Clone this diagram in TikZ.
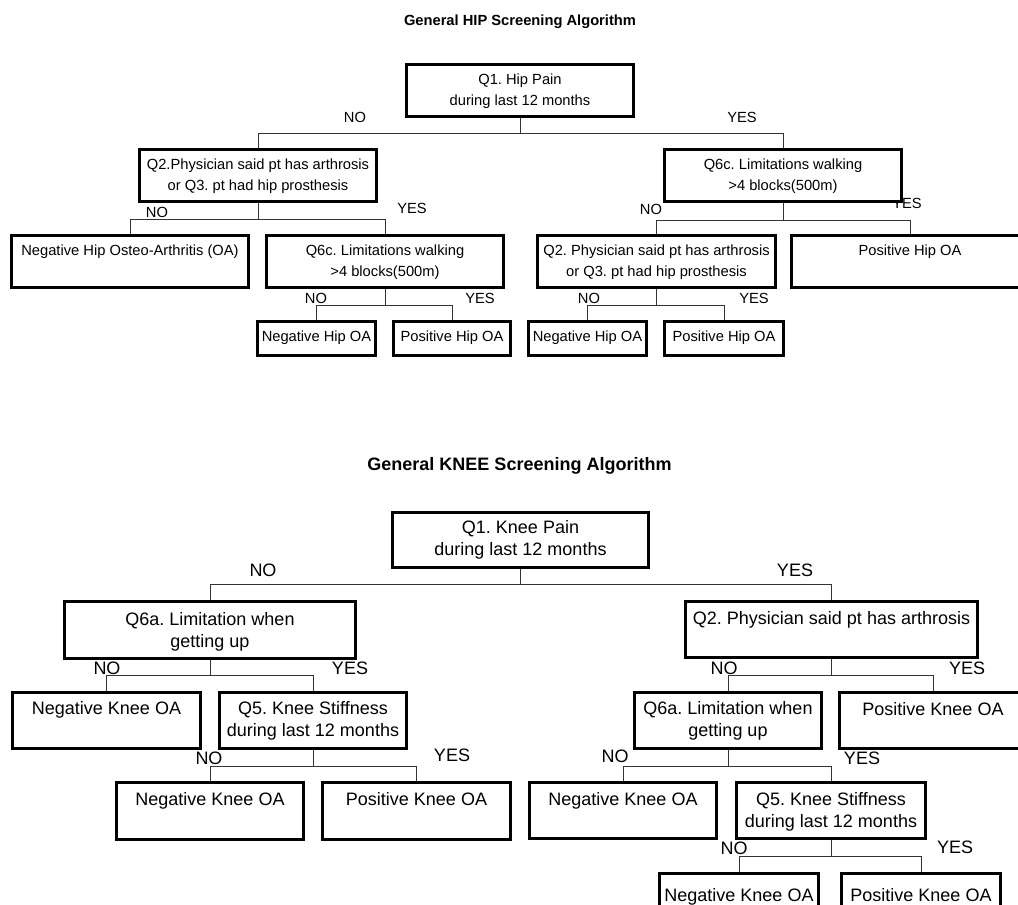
\documentclass[tikz,border=0pt]{standalone}
\usepackage{fontspec}
\setmainfont{Liberation Sans}
\frenchspacing
\pgfdeclarelayer{back}
\pgfdeclarelayer{bg}
\pgfsetlayers{back,bg,main}
\begin{document}
\begin{tikzpicture}[x=1pt,y=-1pt,
  box/.style={draw=black,line width=3pt,fill=white,inner sep=0pt},
  htxt/.style={anchor=north,inner sep=0pt,align=center,font=\fontsize{14.7}{20.5}\selectfont},
  ktxt/.style={anchor=north,inner sep=0pt,align=center,font=\fontsize{18}{22}\selectfont},
  hlab/.style={inner sep=0pt,font=\fontsize{14.7}{17}\selectfont},
  klab/.style={inner sep=0pt,font=\fontsize{18}{21}\selectfont},
  conn/.style={draw=black!80,line width=1pt},
  ttl/.style={inner sep=0pt,font=\bfseries}
]
\useasboundingbox (0,0) rectangle (1018,905);
\clip (0,0) rectangle (1018,905);
\begin{pgfonlayer}{back}
\fill[white] (0,0) rectangle (1018,905);
\end{pgfonlayer}

% ---------------- HIP ----------------
\node[ttl,font=\fontsize{14.7}{17}\selectfont\bfseries] (htitle) at (520,21.5) {General HIP Screening Algorithm};

\node[box,minimum width=227pt,minimum height=52pt] (hq1) at (520,90.5) {};
\node[htxt] (hq1t) at ([yshift=-11pt]hq1.north) {Q1. Hip Pain\\during last 12 months};

\node[box,minimum width=237pt,minimum height=52pt] (hq2) at (258,175.5) {};
\node[htxt] (hq2t) at ([yshift=-11pt]hq2.north) {Q2.Physician said pt has arthrosis\\or Q3. pt had hip prosthesis};

\node[box,minimum width=237pt,minimum height=52pt] (hq6) at (783,175.5) {};
\node[htxt] (hq6t) at ([yshift=-11pt]hq6.north) {Q6c. Limitations walking\\>4 blocks(500m)};

\node[box,minimum width=237pt,minimum height=52pt] (hneg) at (130,261.5) {};
\node[htxt] (hnegt) at ([yshift=-11pt]hneg.north) {Negative Hip Osteo-Arthritis (OA)};

\node[box,minimum width=237pt,minimum height=52pt] (hq6b) at (385,261.5) {};
\node[htxt] (hq6bt) at ([yshift=-11pt]hq6b.north) {Q6c. Limitations walking\\>4 blocks(500m)};

\node[box,minimum width=238pt,minimum height=52pt] (hq2b) at (656.5,261.5) {};
\node[htxt] (hq2bt) at ([yshift=-11pt]hq2b.north) {Q2. Physician said pt has arthrosis\\or Q3. pt had hip prosthesis};

\node[box,minimum width=237pt,minimum height=52pt] (hpos) at (910,261.5) {};
\node[htxt] (hpost) at ([yshift=-11pt]hpos.north) {Positive Hip OA};

\node[box,minimum width=118pt,minimum height=34pt] (hn1) at (316.5,338.5) {};
\node[htxt] (hn1t) at ([yshift=-10.5pt]hn1.north) {Negative Hip OA};
\node[box,minimum width=117pt,minimum height=34pt] (hp1) at (452,338.5) {};
\node[htxt] (hp1t) at ([yshift=-10.5pt]hp1.north) {Positive Hip OA};
\node[box,minimum width=118pt,minimum height=34pt] (hn2) at (587.5,338.5) {};
\node[htxt] (hn2t) at ([yshift=-10.5pt]hn2.north) {Negative Hip OA};
\node[box,minimum width=119pt,minimum height=34pt] (hp2) at (724,338.5) {};
\node[htxt] (hp2t) at ([yshift=-10.5pt]hp2.north) {Positive Hip OA};

% ---------------- KNEE ----------------
\node[ttl,font=\fontsize{18}{21}\selectfont\bfseries] (ktitle) at (519.5,466) {General KNEE Screening Algorithm};

\node[box,minimum width=256pt,minimum height=55pt] (kq1) at (520.5,540) {};
\node[ktxt] (kq1t) at ([yshift=-9pt]kq1.north) {Q1. Knee Pain\\during last 12 months};

\node[box,minimum width=291pt,minimum height=57pt] (kq6) at (210,630) {};
\node[ktxt] (kq6t) at ([yshift=-12pt]kq6.north) {Q6a. Limitation when\\getting up};

\node[box,minimum width=292pt,minimum height=56pt] (kq2) at (831.5,629.5) {};
\node[ktxt] (kq2t) at ([yshift=-11pt]kq2.north) {Q2. Physician said pt has arthrosis};

\node[box,minimum width=188pt,minimum height=56pt] (kneg) at (106.5,720.5) {};
\node[ktxt] (knegt) at ([yshift=-10.5pt]kneg.north) {Negative Knee OA};

\node[box,minimum width=187pt,minimum height=56pt] (kq5) at (313,720.5) {};
\node[ktxt] (kq5t) at ([yshift=-10.5pt]kq5.north) {Q5. Knee Stiffness\\during last 12 months};

\node[box,minimum width=187pt,minimum height=57pt] (kn1) at (210,811) {};
\node[ktxt] (kn1t) at ([yshift=-11pt]kn1.north) {Negative Knee OA};
\node[box,minimum width=188pt,minimum height=57pt] (kp1) at (416.5,811) {};
\node[ktxt] (kp1t) at ([yshift=-11pt]kp1.north) {Positive Knee OA};

\node[box,minimum width=187pt,minimum height=56pt] (kq6b) at (728,720.5) {};
\node[ktxt] (kq6bt) at ([yshift=-10.5pt]kq6b.north) {Q6a. Limitation when\\getting up};

\node[box,minimum width=187pt,minimum height=56pt] (kposr) at (933,720.5) {};
\node[ktxt] (kposrt) at ([yshift=-11pt]kposr.north) {Positive Knee OA};

\node[box,minimum width=187pt,minimum height=56pt] (kn2) at (623,810.5) {};
\node[ktxt] (kn2t) at ([yshift=-11pt]kn2.north) {Negative Knee OA};

\node[box,minimum width=189pt,minimum height=56pt] (kq5b) at (831,810.5) {};
\node[ktxt] (kq5bt) at ([yshift=-11pt]kq5b.north) {Q5. Knee Stiffness\\during last 12 months};

\node[box,minimum width=159pt,minimum height=50pt] (kn3) at (739,898.5) {};
\node[ktxt] (kn3t) at ([yshift=-16.5pt]kn3.north) {Negative Knee OA};
\node[box,minimum width=159pt,minimum height=50pt] (kp3) at (921,898.5) {};
\node[ktxt] (kp3t) at ([yshift=-16.5pt]kp3.north) {Positive Knee OA};

% ---------------- connectors and labels (behind boxes) ----------------
\begin{pgfonlayer}{bg}
\coordinate (hb1) at (520,133);
\draw[conn] (hq1.south) -- (hb1) -| (hq2.north);
\draw[conn] (hb1) -| (hq6.north);
\coordinate (hb2) at (258,219);
\draw[conn] (hq2.south) -- (hb2) -| (hneg.north);
\draw[conn] (hb2) -| (hq6b.north);
\coordinate (hb3) at (385,305);
\draw[conn] (hq6b.south) -- (hb3) -| (hn1.north);
\draw[conn] (hb3) -| (hp1.north);
\coordinate (hb4) at (783,220);
\draw[conn] (hq6.south) -- (hb4) -| (hq2b.north);
\draw[conn] (hb4) -| (hpos.north);
\coordinate (hb5) at (656.5,305);
\draw[conn] (hq2b.south) -- (hb5) -| (hn2.north);
\draw[conn] (hb5) -| (hp2.north);

\node[hlab] (l1) at (355,117) {NO};
\node[hlab] (l2) at (742,117) {YES};
\node[hlab] (l3) at (157,212) {NO};
\node[hlab] (l4) at (412,208) {YES};
\node[hlab] (l5) at (316,298) {NO};
\node[hlab] (l6) at (480,298) {YES};
\node[hlab] (l7) at (651,209) {NO};
\node[hlab] (l8) at (907,203) {YES};
\node[hlab] (l9) at (589,298) {NO};
\node[hlab] (l10) at (754,298) {YES};

\coordinate (kb1) at (520.5,584);
\draw[conn] (kq1.south) -- (kb1) -| (kq6.north);
\draw[conn] (kb1) -| (kq2.north);
\coordinate (kb2) at (210,675);
\draw[conn] (kq6.south) -- (kb2) -| (kneg.north);
\draw[conn] (kb2) -| (kq5.north);
\coordinate (kb3) at (313,766);
\draw[conn] (kq5.south) -- (kb3) -| (kn1.north);
\draw[conn] (kb3) -| (kp1.north);
\coordinate (kb4) at (831.5,675);
\draw[conn] (kq2.south) -- (kb4) -| (kq6b.north);
\draw[conn] (kb4) -| (kposr.north);
\coordinate (kb5) at (728,766);
\draw[conn] (kq6b.south) -- (kb5) -| (kn2.north);
\draw[conn] (kb5) -| (kq5b.north);
\coordinate (kb6) at (831,856);
\draw[conn] (kq5b.south) -- (kb6) -| (kn3.north);
\draw[conn] (kb6) -| (kp3.north);

\node[klab] (m1) at (263,570) {NO};
\node[klab] (m2) at (795,570) {YES};
\node[klab] (m3) at (107,668) {NO};
\node[klab] (m4) at (350,668) {YES};
\node[klab] (m5) at (209,758) {NO};
\node[klab] (m6) at (452,755) {YES};
\node[klab] (m7) at (724,668) {NO};
\node[klab] (m8) at (967,668) {YES};
\node[klab] (m9) at (615,756) {NO};
\node[klab] (m10) at (862,758) {YES};
\node[klab] (m11) at (734,848) {NO};
\node[klab] (m12) at (955,847) {YES};
\end{pgfonlayer}
\end{tikzpicture}
\end{document}
